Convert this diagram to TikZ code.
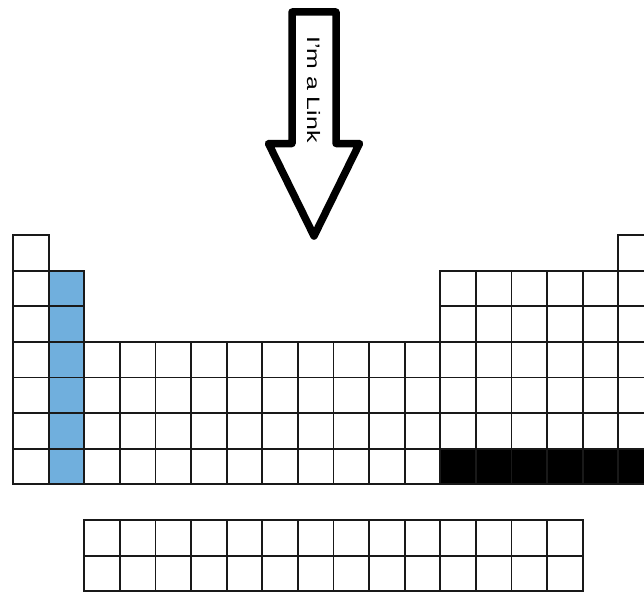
\documentclass[tikz,border=0pt]{standalone}
\usepackage{fontspec}
\setmainfont{Liberation Sans}
\definecolor{cellblue}{RGB}{112,175,221}
\definecolor{gridline}{RGB}{25,25,25}
\tikzset{
  cellbox/.style={draw=gridline, line width=1.8pt},
  arrowshape/.style={draw=black, line width=7.5pt, line join=round, fill=white},
  linktext/.style={inner sep=0pt, font=\fontsize{18}{18}\selectfont, rotate=-90, anchor=base west}
}
\begin{document}
\begin{tikzpicture}[x=1pt, y=-1pt]
\clip (0,0) rectangle (644,591);
\fill[white] (0,0) rectangle (644,591);
\def\s{35.6}
\def\xo{13}
\def\yo{235}
% main table
\foreach \r in {1,...,7}{
  \foreach \c in {1,...,18}{
    \pgfmathtruncatemacro{\show}{ (\r==1 && (\c==1 || \c==18)) || ((\r==2 || \r==3) && (\c<=2 || \c>=13)) || (\r>=4) ? 1 : 0}
    \ifnum\show=1
      \pgfmathtruncatemacro{\isblue}{(\c==2 && \r>=2) ? 1 : 0}
      \pgfmathtruncatemacro{\isblack}{(\r==7 && \c>=13) ? 1 : 0}
      \ifnum\isblue=1
        \def\fc{cellblue}
      \else
        \ifnum\isblack=1 \def\fc{black}\else\def\fc{white}\fi
      \fi
      \filldraw[cellbox, fill=\fc] ({\xo+(\c-1)*\s},{\yo+(\r-1)*\s}) rectangle ++(\s,\s);
    \fi
  }
}
% bottom block
\foreach \r in {1,2}{
  \foreach \c in {1,...,14}{
    \filldraw[cellbox, fill=white] ({84.2+(\c-1)*\s},{520+(\r-1)*\s}) rectangle ++(\s,\s);
  }
}
% arrow
\draw[arrowshape] (292,12) -- (336,12) -- (336,143.5) -- (359.5,143.5) -- (314,236) -- (268.5,143.5) -- (292,143.5) -- cycle;
\node[linktext] (link) at (307,36) {\scalebox{1.38}[1]{I'm a Link}};
\end{tikzpicture}
\end{document}
